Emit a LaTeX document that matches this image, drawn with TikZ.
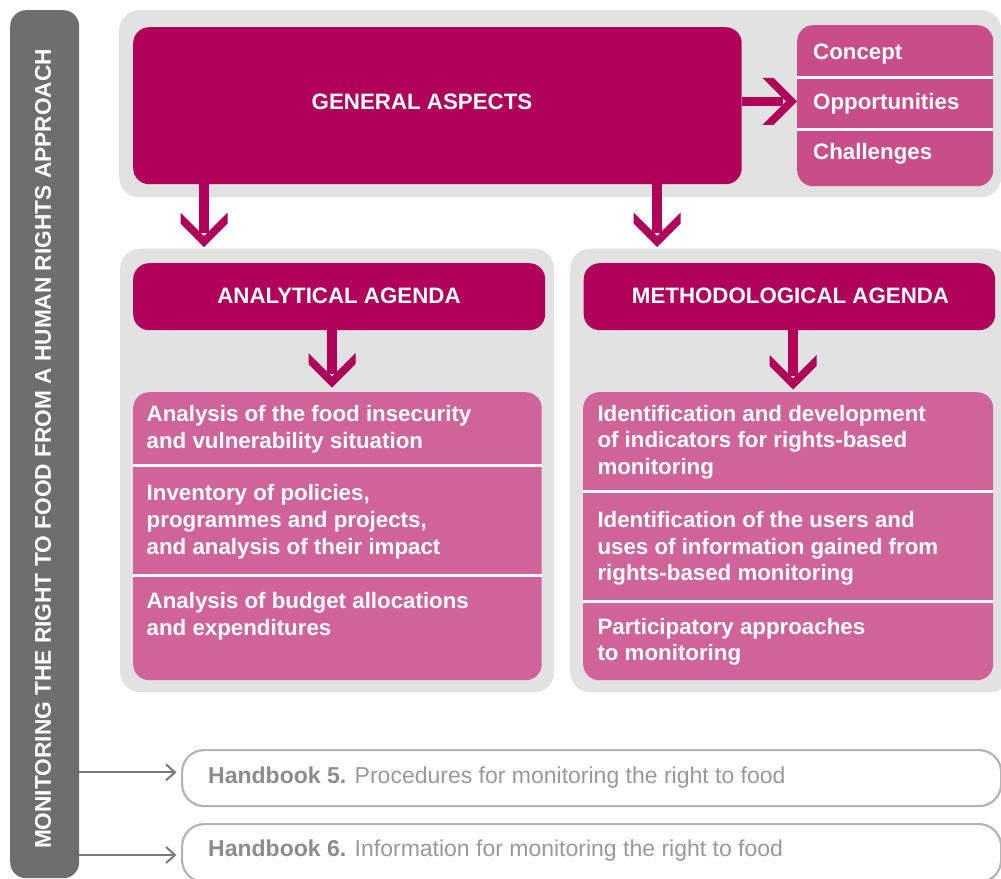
\documentclass[tikz,border=0pt]{standalone}
\usepackage{fontspec}
\setmainfont{Liberation Sans}
\usetikzlibrary{arrows.meta}
\definecolor{mag}{HTML}{B0005A}
\definecolor{magmid}{HTML}{C84D88}
\definecolor{maglight}{HTML}{D0649A}
\definecolor{panelgray}{HTML}{E2E2E2}
\definecolor{bargray}{HTML}{6E6E6E}
\definecolor{hbgray}{HTML}{B4B4B4}
\definecolor{hbtext}{HTML}{999999}
\definecolor{hbbold}{HTML}{8C8C8C}
\definecolor{linegray}{HTML}{7A7A7A}

\pgfdeclarearrow{
  name=Chevron,
  setup code={
    \pgfarrowssettipend{0pt}
    \pgfarrowssetlineend{-14pt}
    \pgfarrowssetbackend{-34.5pt}
  },
  drawing code={
    \pgfpathmoveto{\pgfqpoint{0pt}{0pt}}
    \pgfpathlineto{\pgfqpoint{-23.5pt}{23.5pt}}
    \pgfpathlineto{\pgfqpoint{-34.5pt}{23.5pt}}
    \pgfpathlineto{\pgfqpoint{-11pt}{0pt}}
    \pgfpathlineto{\pgfqpoint{-34.5pt}{-23.5pt}}
    \pgfpathlineto{\pgfqpoint{-23.5pt}{-23.5pt}}
    \pgfpathclose
    \pgfusepathqfill
  }
}

\newcommand\listlines[1]{\parbox[t]{400pt}{\raggedright #1}}

\tikzset{
  panel/.style={fill=panelgray, rounded corners=20pt, inner sep=0pt, anchor=north west},
  darkbox/.style={fill=mag, rounded corners=16pt, inner sep=0pt, anchor=north west},
  listbox/.style={fill=maglight, rounded corners=16pt, inner sep=0pt, anchor=north west},
  conceptbox/.style={fill=magmid, rounded corners=16pt, inner sep=0pt, anchor=north west},
  hbbox/.style={draw=hbgray, line width=2.2pt, rounded corners=22pt, inner sep=0pt, anchor=north west},
  bigarrow/.style={color=mag, line width=9.5pt, -Chevron},
  thinarrow/.style={draw=linegray, line width=2pt, -{Straight Barb[length=9pt,width=16pt]}},
  divider/.style={draw=white, line width=3pt},
  wtext/.style={font=\fontsize{22.3}{26.7}\selectfont\bfseries, text=white, inner sep=0pt},
  hbtextstyle/.style={font=\fontsize{23}{27}\selectfont, text=hbtext, inner sep=0pt, anchor=base west},
}

\begin{document}
\begin{tikzpicture}[x=1pt, y=-1pt]
\useasboundingbox (0,0) rectangle (1001,878);
\clip (0,0) rectangle (1001,878);

% left bar
\node[fill=bargray, rounded corners=16pt, minimum width=69pt, minimum height=868pt, inner sep=0pt, anchor=north west] (bar) at (10,10) {};
\node[wtext, rotate=90, font=\fontsize{22.7}{27}\selectfont\bfseries] (bartitle) at (43,449)
  {MONITORING THE RIGHT TO FOOD FROM A HUMAN RIGHTS APPROACH};

% top panel
\node[panel, minimum width=882pt, minimum height=187pt] (toppanel) at (119,10) {};
\node[darkbox, minimum width=608.5pt, minimum height=157pt] (ga) at (133,27) {};
\node[wtext, anchor=base] (gatext) at (422,109) {GENERAL ASPECTS};

\node[conceptbox, minimum width=196pt, minimum height=161pt] (cc) at (797,25) {};
\draw[divider] (cc.west |- 0,77.3) -- (cc.east |- 0,77.3);
\draw[divider] (cc.west |- 0,129) -- (cc.east |- 0,129);
\node[wtext, anchor=base west] (concept) at (813,59) {Concept};
\node[wtext, anchor=base west] (opport) at (813,109) {Opportunities};
\node[wtext, anchor=base west] (chall) at (813,159) {Challenges};

% analytical panel
\node[panel, minimum width=434pt, minimum height=443.5pt] (apanel) at (120,248.5) {};
\node[darkbox, minimum width=412pt, minimum height=67pt] (ah) at (133,263) {};
\node[wtext, anchor=base] (ahtext) at (339,303.5) {ANALYTICAL AGENDA};
\node[listbox, minimum width=408.5pt, minimum height=288pt] (al) at (133,392) {};
\draw[divider] (al.west |- 0,465.7) -- (al.east |- 0,465.7);
\draw[divider] (al.west |- 0,575) -- (al.east |- 0,575);
\node[wtext, anchor=base west] (a1) at (146.5,421.7) {\listlines{Analysis of the food insecurity\\and vulnerability situation}};
\node[wtext, anchor=base west] (a2) at (146.5,500.7) {\listlines{Inventory of policies,\\programmes and projects,\\and analysis of their impact}};
\node[wtext, anchor=base west] (a3) at (146.5,608.3) {\listlines{Analysis of budget allocations\\and expenditures}};

% methodological panel
\node[panel, minimum width=440pt, minimum height=443.5pt] (mpanel) at (570,248.5) {};
\node[darkbox, minimum width=411.5pt, minimum height=67pt] (mh) at (583.5,263) {};
\node[wtext, anchor=base] (mhtext) at (790.5,303.5) {METHODOLOGICAL AGENDA};
\node[listbox, minimum width=410pt, minimum height=288pt] (ml) at (583,392) {};
\draw[divider] (ml.west |- 0,491.7) -- (ml.east |- 0,491.7);
\draw[divider] (ml.west |- 0,601.7) -- (ml.east |- 0,601.7);
\node[wtext, anchor=base west] (m1) at (597.3,421) {\listlines{Identification and development\\of indicators for rights-based\\monitoring}};
\node[wtext, anchor=base west] (m2) at (597.3,527.3) {\listlines{Identification of the users and\\uses of information gained from\\rights-based monitoring}};
\node[wtext, anchor=base west] (m3) at (597.3,634) {\listlines{Participatory approaches\\to monitoring}};

% magenta arrows
\draw[bigarrow] (ga.east |- 0,101.3) -- (cc.west |- 0,101.3);
\draw[bigarrow, shorten >=1.5pt] (ga.south -| 204,0) -- (apanel.north -| 204,0);
\draw[bigarrow, shorten >=1.5pt] (ga.south -| 657,0) -- (mpanel.north -| 657,0);
\draw[bigarrow, shorten >=4.5pt] (ah.south -| 332,0) -- (al.north -| 332,0);
\draw[bigarrow, shorten >=2.5pt] (mh.south -| 793,0) -- (ml.north -| 793,0);

% handbooks
\node[hbbox, minimum width=819pt, minimum height=56pt] (hb5) at (181,749) {};
\node[hbbox, minimum width=819pt, minimum height=58pt] (hb6) at (181,823) {};
\node[hbtextstyle] (hb5text) at (208,783.3) {\textcolor{hbbold}{\bfseries Handbook 5.} Procedures for monitoring the right to food};
\node[hbtextstyle] (hb6text) at (208,856.7) {\textcolor{hbbold}{\bfseries Handbook 6.} Information for monitoring the right to food};
\draw[thinarrow, shorten >=4.5pt] (bar.east |- 0,772.3) -- (hb5.west |- 0,772.3);
\draw[thinarrow, shorten >=4.5pt] (bar.east |- 0,855) -- (hb6.west |- 0,855);
\end{tikzpicture}
\end{document}
